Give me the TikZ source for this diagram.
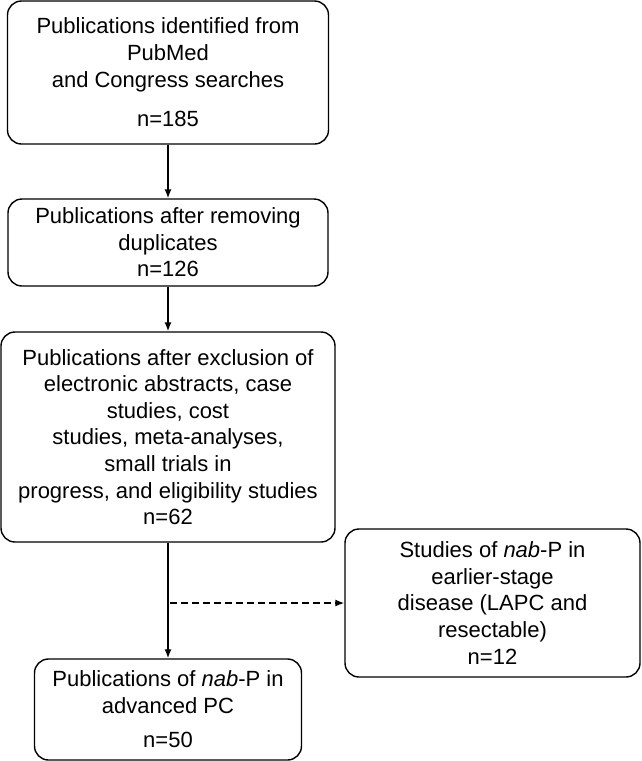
\documentclass[tikz,border=0pt]{standalone}
\usepackage{fontspec}
\setmainfont{Liberation Sans}
\usetikzlibrary{arrows.meta}

\tikzstyle{box}=[draw,line width=1.4pt,rounded corners=14pt,align=center,inner sep=0pt,font=\fontsize{22}{26.6}\selectfont]
\tikzstyle{arrow}=[line width=1.4pt,-{Latex[length=9pt,width=7pt]}]

\begin{document}
\begin{tikzpicture}[x=1pt,y=-1pt]
          \useasboundingbox (0,0) rectangle (641,761);
          \node (found) at (168,72.5) [box,minimum width=321pt,minimum height=143pt]
            {Publications identified from\\PubMed\\and Congress searches\\[13pt]n=185};
          \node (dedup) at (168,242.5) [box,minimum width=320pt,minimum height=87pt]
            {Publications after removing\\duplicates\\n=126};
          \node (screened) at (168,437) [box,minimum width=334pt,minimum height=210pt]
            {Publications after exclusion of\\electronic abstracts, case\\studies, cost\\studies, meta-analyses,\\small trials in\\progress, and eligibility studies\\n=62};
          \node (advanced) at (168,709.5) [box,minimum width=267pt,minimum height=101pt]
            {Publications of \textit{nab}-P in\\advanced PC\\[8pt]n=50};
          \node (earlier) at (492.5,603) [box,minimum width=295pt,minimum height=148pt]
            {Studies of \textit{nab}-P in\\earlier-stage\\disease (LAPC and\\resectable)\\n=12};
          
          \foreach \a/\b in {found/dedup,dedup/screened,screened/advanced}{
            \draw[arrow] (\a) -- (\b);
          }
          
          \coordinate (split) at (170,603);
          \draw[arrow,dash pattern=on 7pt off 4pt] (split) -- (earlier.west);
        \end{tikzpicture}
\end{document}
